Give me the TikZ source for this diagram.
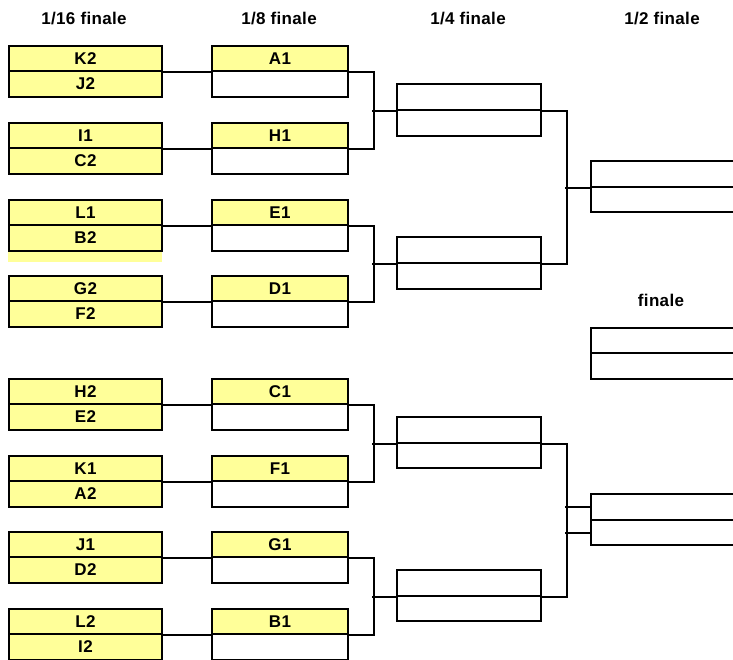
\documentclass[tikz,border=0pt]{standalone}
\usepackage{fontspec}
\setmainfont{Liberation Sans}[LetterSpace=2]
\definecolor{pale}{RGB}{255,255,153}
\begin{document}
\begin{tikzpicture}[x=1pt,y=-1pt,
  lw/.style={line width=2pt},
  cell/.style={draw=black, lw, inner sep=0pt, anchor=north west,
    font=\fontsize{17}{17}\selectfont\bfseries},
  w16/.style={cell, minimum width=153pt},
  w8/.style={cell, minimum width=136pt},
  w4/.style={cell, minimum width=144pt},
  w2/.style={cell, minimum width=160pt},
  yel/.style={fill=pale},
  head/.style={font=\fontsize{17}{17}\selectfont\bfseries, inner sep=0pt},
  wire/.style={lw, draw=black}]
\useasboundingbox (0,0) rectangle (733,659);
\clip (0,0) rectangle (733,659);
% headers
\node[head] (h16) at (84,19) {1/16 finale};
\node[head] (h8) at (279,19) {1/8 finale};
\node[head] (h4) at (468,19) {1/4 finale};
\node[head] (h2) at (662,19) {1/2 finale};
\node[head] (hf) at (661,300) {finale};
% stray yellow strip
\node[fill=pale, inner sep=0pt, minimum width=154pt, minimum height=12pt, anchor=north west] (strip) at (8,250) {};
% 1/16 and 1/8 pairs
\foreach \i/\y/\a/\b/\c in {1/45/K2/J2/A1, 2/122/I1/C2/H1, 3/199/L1/B2/E1, 4/275/G2/F2/D1,
  5/378/H2/E2/C1, 6/455/K1/A2/F1, 7/531/J1/D2/G1, 8/608/L2/I2/B1}{
  \node[w16, yel, minimum height=25pt] (s\i a) at (8,\y) {\a};
  \node[w16, yel, minimum height=26pt] (s\i b) at (8,\y+25) {\b};
  \node[w8, yel, minimum height=25pt] (e\i a) at (211,\y) {\c};
  \node[w8, minimum height=26pt] (e\i b) at (211,\y+25) {};
  \draw[wire] (s\i a.south east) -- (e\i a.south west);
}
% 1/4 boxes
\foreach \i/\y/\h in {1/83/26, 2/236/26, 3/416/25, 4/569/25}{
  \node[w4, minimum height=26pt] (q\i a) at (396,\y) {};
  \node[w4, minimum height=\h pt] (q\i b) at (396,\y+26) {};
}
% 1/2 boxes and finale
\node[w2, minimum height=26pt] (h1a) at (590,160) {};
\node[w2, minimum height=25pt] (h1b) at (590,186) {};
\node[w2, minimum height=26pt] (h2a) at (590,493) {};
\node[w2, minimum height=25pt] (h2b) at (590,519) {};
\node[w2, minimum height=25pt] (fa) at (590,327) {};
\node[w2, minimum height=26pt] (fb) at (590,352) {};
% brackets 1/8 -> 1/4
\foreach \u/\v/\q in {1/2/1, 3/4/2, 5/6/3, 7/8/4}{
  \draw[wire] (e\u a.south east) -- ++(25,0) |- (e\v a.south east);
  \draw[wire] (q\q a.south west) -- ++(-24,0);
}
% brackets 1/4 -> 1/2
\draw[wire] (q1a.south east) -- ++(25,0) |- (q2a.south east);
\draw[wire] (h1a.south west) -- ++(-25,0);
\draw[wire] (q3a.south east) -- ++(25,0) |- (q4a.south east);
\draw[wire] (h2a.west) -- ++(-25,0);
\draw[wire] (h2b.west) -- ++(-25,0);
\end{tikzpicture}
\end{document}
